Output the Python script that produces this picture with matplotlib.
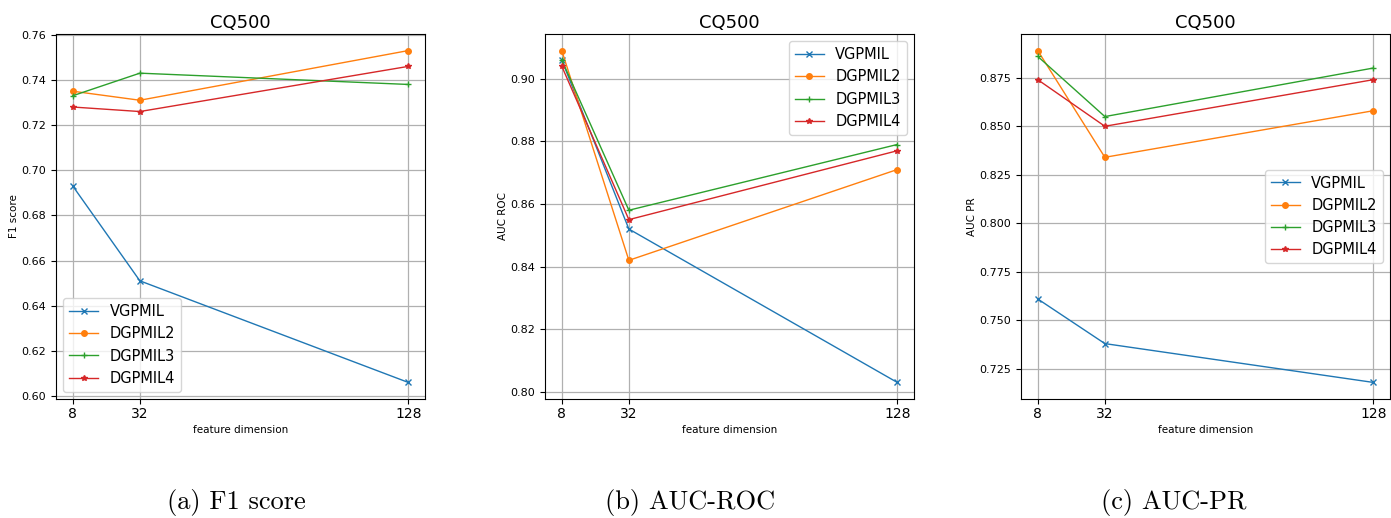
import matplotlib
matplotlib.use("Agg")
import matplotlib.pyplot as plt

dims = [8, 32, 128]
methods = ["VGPMIL", "DGPMIL2", "DGPMIL3", "DGPMIL4"]
markers = ["x", "o", "+", "*"]
colors = ["#1f77b4", "#ff7f0e", "#2ca02c", "#d62728"]

f1_vgpmil = [0.693, 0.651, 0.606]
f1_dgpmil2 = [0.735, 0.731, 0.753]
f1_dgpmil3 = [0.733, 0.743, 0.738]
f1_dgpmil4 = [0.728, 0.726, 0.746]

roc_vgpmil = [0.906, 0.852, 0.803]
roc_dgpmil2 = [0.909, 0.842, 0.871]
roc_dgpmil3 = [0.906, 0.858, 0.879]
roc_dgpmil4 = [0.904, 0.855, 0.877]

pr_vgpmil = [0.761, 0.738, 0.718]
pr_dgpmil2 = [0.889, 0.834, 0.858]
pr_dgpmil3 = [0.886, 0.855, 0.880]
pr_dgpmil4 = [0.874, 0.850, 0.874]

panels = [
    ("F1 score", [f1_vgpmil, f1_dgpmil2, f1_dgpmil3, f1_dgpmil4], "lower left", "(a) F1 score"),
    ("AUC ROC", [roc_vgpmil, roc_dgpmil2, roc_dgpmil3, roc_dgpmil4], "upper right", "(b) AUC-ROC"),
    ("AUC PR", [pr_vgpmil, pr_dgpmil2, pr_dgpmil3, pr_dgpmil4], "center right", "(c) AUC-PR"),
]

W, H = 1391, 518
fig = plt.figure(figsize=(W / 100, H / 100), dpi=100)
lefts = [56, 545, 1021]
caption_x = [236, 690, 1174]
for i, (ylabel, series, loc, caption) in enumerate(panels):
    ax = fig.add_axes([lefts[i] / W, 1 - 399 / H, 369 / W, 365 / H])
    for name, vals, m, c in zip(methods, series, markers, colors):
        ax.plot(dims, vals, marker=m, color=c, label=name, lw=1.0, markersize=4)
    ax.set_xticks(dims)
    ax.set_xticklabels([str(d) for d in dims], fontsize=10)
    ax.tick_params(axis="y", labelsize=8)
    ax.tick_params(axis="x", pad=2)
    ax.grid(True, color="#b0b0b0", lw=0.9)
    ax.set_title("CQ500", fontsize=13, pad=4)
    ax.set_xlabel("feature dimension", fontsize=7.5, labelpad=3)
    ax.set_ylabel(ylabel, fontsize=7.5, labelpad=1.5)
    ax.legend(loc=loc, fontsize=10.5)
    fig.text(caption_x[i] / W, 1 - 502 / H, caption, ha="center", va="center",
             fontsize=19, family="cmr10")

fig.savefig("out.png", dpi=100)
